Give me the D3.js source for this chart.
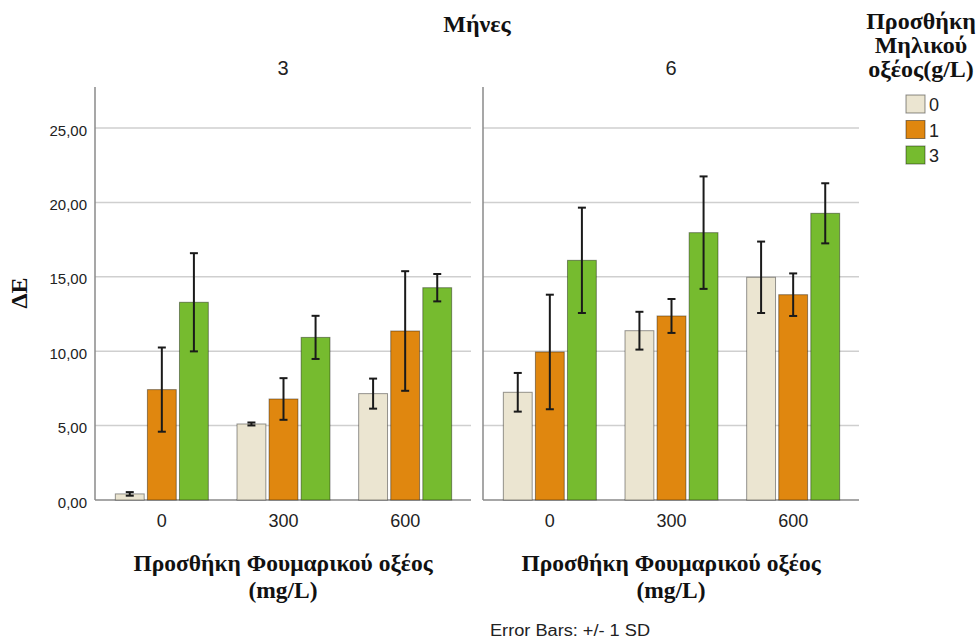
<!DOCTYPE html>
<html>
<head>
<meta charset="utf-8">
<script src="https://cdn.jsdelivr.net/npm/d3@7"></script>
<style>
  body { margin: 0; background: #fff; }
  svg { display: block; }
  .serif { font-family: "Liberation Serif", "Times New Roman", serif; font-weight: bold; fill: #111; }
  .sans { font-family: "Liberation Sans", Arial, sans-serif; fill: #222; }
</style>
</head>
<body>
<div id="container"></div>
<script>
const months = ["3", "6"];
const fumaric = ["0", "300", "600"];
const malic = ["0", "1", "3"];
const yTicks = [0, 5, 10, 15, 20, 25];

// mean ΔE per fumaric level (rows) and malic level (cols)
const means3 = [[0.41, 7.42, 13.29], [5.11, 6.79, 10.93], [7.15, 11.36, 14.27]];
const sd3 = [[0.12, 2.83, 3.30], [0.10, 1.40, 1.45], [1.01, 4.02, 0.92]];
const means6 = [[7.24, 9.95, 16.11], [11.38, 12.37, 17.97], [14.97, 13.80, 19.27]];
const sd6 = [[1.30, 3.85, 3.54], [1.27, 1.14, 3.78], [2.40, 1.43, 2.02]];

const colors = ["#ebe5d1", "#e0870f", "#76bb2f"];

const totalWidth = 979;
const totalHeight = 639;
const panelLefts = [95, 483];
const panelWidth = 376;
const plotTop = 87;
const plotBottom = 500;

const svg = d3.select("#container")
  .append("svg")
  .attr("width", totalWidth)
  .attr("height", totalHeight);

const yScale = d3.scaleLinear()
  .domain([0, 27.76])
  .range([plotBottom, plotTop]);

const xSub = d3.scaleBand()
  .domain(malic)
  .range([0, 93])
  .paddingInner(0.1);

// Title
svg.append("text")
  .attr("class", "serif")
  .attr("x", 477)
  .attr("y", 32)
  .attr("text-anchor", "middle")
  .style("font-size", "24px")
  .text("Μήνες");

// Y label
svg.append("text")
  .attr("class", "serif")
  .attr("transform", "translate(27,293) rotate(-90)")
  .attr("text-anchor", "middle")
  .style("font-size", "24px")
  .text("ΔΕ");

// Y tick labels
svg.selectAll("text.ytick")
  .data(yTicks)
  .enter()
  .append("text")
  .attr("class", "ytick sans")
  .attr("x", 87)
  .attr("y", d => yScale(d) + 7.5)
  .attr("text-anchor", "end")
  .style("font-size", "15px")
  .text(d => d3.format(".2f")(d).replace(".", ","));

months.forEach((m, pi) => {
  const left = panelLefts[pi];
  const means = pi === 0 ? means3 : means6;
  const sds = pi === 0 ? sd3 : sd6;

  const x0 = d3.scaleBand()
    .domain(fumaric)
    .range([left + 6, left + 371]);

  const g = svg.append("g");

  // Gridlines
  g.selectAll("line.grid")
    .data(yTicks.filter(d => d > 0))
    .enter()
    .append("line")
    .attr("x1", left)
    .attr("x2", left + panelWidth)
    .attr("y1", d => yScale(d))
    .attr("y2", d => yScale(d))
    .attr("stroke", "#cfcfcf")
    .attr("stroke-width", 1.5);

  // Axes lines
  g.append("line")
    .attr("x1", left).attr("x2", left)
    .attr("y1", plotTop).attr("y2", plotBottom)
    .attr("stroke", "#8a8a8a")
    .attr("stroke-width", 1.5);
  g.append("line")
    .attr("x1", left).attr("x2", left + panelWidth)
    .attr("y1", plotBottom).attr("y2", plotBottom)
    .attr("stroke", "#8a8a8a")
    .attr("stroke-width", 1.5);

  // Facet label
  svg.append("text")
    .attr("class", "sans")
    .attr("x", left + panelWidth / 2)
    .attr("y", 75)
    .attr("text-anchor", "middle")
    .style("font-size", "20px")
    .text(m);

  const rows = [];
  fumaric.forEach((f, i) => {
    malic.forEach((k, j) => {
      rows.push({ f, k, j, mean: means[i][j], sd: sds[i][j] });
    });
  });

  const bx = d => x0(d.f) + x0.bandwidth() / 2 - 46.5 + xSub(d.k);

  g.selectAll("rect.bar")
    .data(rows)
    .enter()
    .append("rect")
    .attr("class", "bar")
    .attr("x", bx)
    .attr("y", d => yScale(d.mean))
    .attr("width", xSub.bandwidth())
    .attr("height", d => yScale(0) - yScale(d.mean))
    .attr("fill", d => colors[d.j])
    .attr("stroke", "rgba(0,0,0,0.4)")
    .attr("stroke-width", 1);

  // Error bars
  const cx = d => bx(d) + xSub.bandwidth() / 2;
  const eb = g.selectAll("g.err")
    .data(rows)
    .enter()
    .append("g")
    .attr("stroke", "#1a1a1a")
    .attr("stroke-width", 2);
  eb.append("line")
    .attr("x1", cx).attr("x2", cx)
    .attr("y1", d => yScale(d.mean + d.sd))
    .attr("y2", d => yScale(d.mean - d.sd));
  eb.append("line")
    .attr("x1", d => cx(d) - 4).attr("x2", d => cx(d) + 4)
    .attr("y1", d => yScale(d.mean + d.sd))
    .attr("y2", d => yScale(d.mean + d.sd));
  eb.append("line")
    .attr("x1", d => cx(d) - 4).attr("x2", d => cx(d) + 4)
    .attr("y1", d => yScale(d.mean - d.sd))
    .attr("y2", d => yScale(d.mean - d.sd));

  // X tick labels
  g.selectAll("text.xtick")
    .data(fumaric)
    .enter()
    .append("text")
    .attr("class", "xtick sans")
    .attr("x", d => x0(d) + x0.bandwidth() / 2)
    .attr("y", 527)
    .attr("text-anchor", "middle")
    .style("font-size", "18px")
    .text(d => d);

  // X axis title
  const xt = svg.append("text")
    .attr("class", "serif")
    .attr("x", left + panelWidth / 2)
    .attr("y", 571)
    .attr("text-anchor", "middle")
    .style("font-size", "23.5px");
  xt.append("tspan")
    .attr("x", left + panelWidth / 2)
    .text("Προσθήκη Φουμαρικού οξέος");
  xt.append("tspan")
    .attr("x", left + panelWidth / 2)
    .attr("dy", 27)
    .text("(mg/L)");
});

// Legend
const legendTitle = ["Προσθήκη", "Μηλικού", "οξέος(g/L)"];
svg.selectAll("text.ltitle")
  .data(legendTitle)
  .enter()
  .append("text")
  .attr("class", "ltitle serif")
  .attr("x", 921)
  .attr("y", (d, i) => 29 + i * 24)
  .attr("text-anchor", "middle")
  .style("font-size", "24px")
  .text(d => d);

const legend = svg.append("g")
  .attr("transform", "translate(906, 95)");

legend.selectAll("rect")
  .data(malic)
  .enter()
  .append("rect")
  .attr("x", 0)
  .attr("y", (d, i) => i * 25.5)
  .attr("width", 19)
  .attr("height", 18)
  .attr("fill", (d, i) => colors[i])
  .attr("stroke", "rgba(0,0,0,0.45)")
  .attr("stroke-width", 1);

legend.selectAll("text")
  .data(malic)
  .enter()
  .append("text")
  .attr("class", "sans")
  .attr("x", 23)
  .attr("y", (d, i) => i * 25.5 + 16)
  .style("font-size", "18px")
  .text(d => d);

// Footer
svg.append("text")
  .attr("class", "sans")
  .attr("x", 490)
  .attr("y", 636)
  .attr("textLength", 160)
  .attr("lengthAdjust", "spacingAndGlyphs")
  .style("font-size", "16px")
  .text("Error Bars: +/- 1 SD");
</script>
</body>
</html>
